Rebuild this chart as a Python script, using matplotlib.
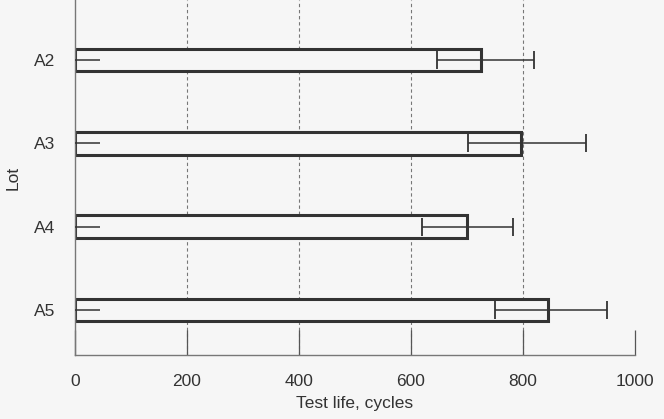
import matplotlib.pyplot as plt

plt.rcParams['font.family'] = ['Liberation Sans', 'DejaVu Sans']

lots = ['A2', 'A3', 'A4', 'A5']
test_life = [725, 797, 700, 845]
err_low = [646, 701, 619, 750]
err_high = [820, 912, 782, 950]
min_life = [45, 45, 45, 45]

bg = '#f6f6f6'
ink = '#333333'

fig = plt.figure(figsize=(6.64, 4.19), dpi=100, facecolor=bg)
ax = fig.add_axes([75 / 664, 1 - 355 / 419, 560 / 664, 355 / 419])
ax.set_facecolor(bg)

pos = list(range(len(lots)))

# dashed grid only for the inner ticks
for v in [200, 400, 600, 800]:
    ax.axvline(v, color='#777777', lw=0.8, ls=(0, (3, 2.5)), zorder=0)

ax.barh(pos, test_life, height=0.27, facecolor=bg, edgecolor=ink, lw=2.2, zorder=2)

lower = [t - l for t, l in zip(test_life, err_low)]
upper = [h - t for t, h in zip(test_life, err_high)]
ax.errorbar(test_life, pos, xerr=[lower, upper], fmt='none', ecolor=ink,
            elinewidth=1.1, capsize=6.5, capthick=1.3, zorder=3)

ax.hlines(pos, 0, min_life, color=ink, lw=1.1, zorder=3)

ax.set_xlim(0, 1000)
ax.set_ylim(3.54, -0.72)
ax.set_xticks([0, 200, 400, 600, 800, 1000])
ax.set_yticks(pos)
ax.set_yticklabels(lots)

for s in ['top', 'right']:
    ax.spines[s].set_visible(False)
for s in ['left', 'bottom']:
    ax.spines[s].set_color('#777777')
    ax.spines[s].set_linewidth(1.0)

ax.tick_params(axis='x', direction='in', length=18, width=0.9, color='#555555',
               pad=14, labelsize=12.5, labelcolor='#333333')
ax.tick_params(axis='y', length=0, pad=14, labelsize=12.5, labelcolor='#333333')

ax.set_xlabel('Test life, cycles', fontsize=12.5, color='#333333', labelpad=5)
ax.set_ylabel('Lot', fontsize=12.5, color='#333333', labelpad=10)

fig.savefig('out.png', dpi=100, facecolor=bg)
